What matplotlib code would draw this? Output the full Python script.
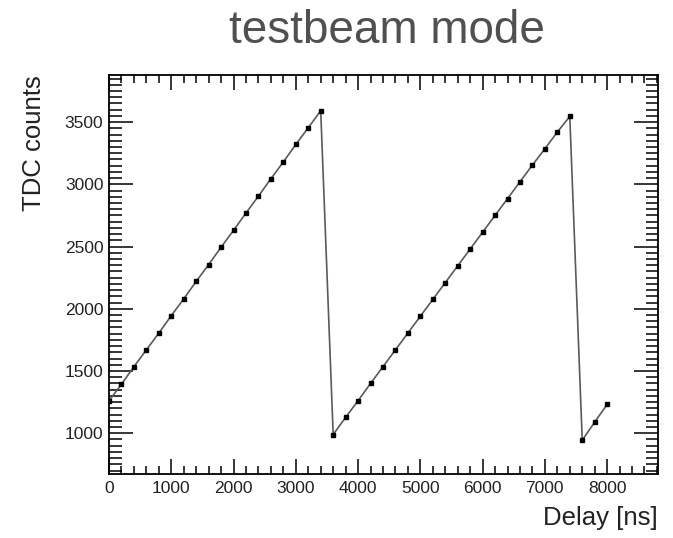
import matplotlib
matplotlib.use("Agg")
import matplotlib.pyplot as plt
from matplotlib.ticker import MultipleLocator

plt.rcParams['font.family'] = ['Liberation Sans', 'DejaVu Sans']

# ------------------------------
# Data
# ------------------------------
delay_ns = [0, 200, 400, 600, 800, 1000, 1200, 1400, 1600, 1800,
            2000, 2200, 2400, 2600, 2800, 3000, 3200, 3400,
            3600, 3800, 4000, 4200, 4400, 4600, 4800, 5000, 5200, 5400,
            5600, 5800, 6000, 6200, 6400, 6600, 6800, 7000, 7200, 7400,
            7600, 7800, 8000]
tdc_counts = [1260, 1395, 1535, 1670, 1805, 1945, 2080, 2220, 2355, 2495,
              2630, 2770, 2905, 3045, 3180, 3320, 3455, 3590,
              990, 1128, 1262, 1400, 1535, 1670, 1805, 1940, 2075, 2210,
              2345, 2480, 2615, 2750, 2885, 3020, 3155, 3285, 3420, 3545,
              944, 1090, 1232]

title_text = "testbeam mode"
x_label = "Delay [ns]"
y_label = "TDC counts"

# ------------------------------
# Figure
# ------------------------------
fig = plt.figure(figsize=(6.73, 5.38), dpi=100)
ax = fig.add_axes([0.162, 0.119, 0.816, 0.742])

ax.plot(delay_ns, tdc_counts, color='#5a5a5a', linewidth=1.2,
        marker='s', markersize=2.8, markerfacecolor='black',
        markeredgecolor='black')

ax.set_xlim(0, 8820)
ax.set_ylim(673, 3880)

ax.xaxis.set_major_locator(MultipleLocator(1000))
ax.xaxis.set_minor_locator(MultipleLocator(200))
ax.yaxis.set_major_locator(MultipleLocator(500))
ax.yaxis.set_minor_locator(MultipleLocator(50))

ax.tick_params(which='both', direction='in', top=True, right=True,
               colors='black', labelcolor='#222222', labelsize=12.5)
ax.tick_params(axis='x', which='major', length=11, width=1.1, pad=5)
ax.tick_params(axis='x', which='minor', length=6, width=1.1)
ax.tick_params(axis='y', which='major', length=17, width=1.1, pad=4)
ax.tick_params(axis='y', which='minor', length=9, width=1.1)

for spine in ax.spines.values():
    spine.set_linewidth(1.3)

# Textes
fig.text(0.575, 0.92, title_text, ha='center', va='baseline',
         fontsize=33, color='#505050')
fig.text(0.978, 0.015, x_label, ha='right', va='bottom',
         fontsize=18.5, color='#222222')
fig.text(0.05, 0.861, y_label, ha='center', va='top', rotation=90,
         fontsize=18.5, color='#222222')

fig.savefig("out.png", dpi=100)
